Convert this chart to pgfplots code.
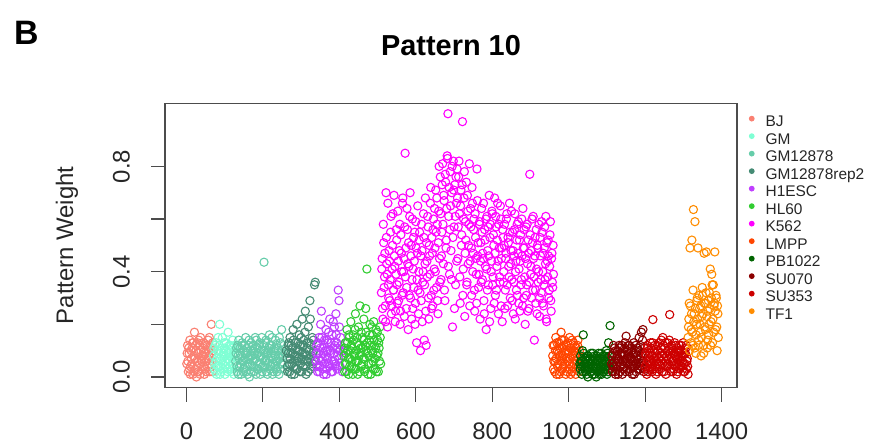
\documentclass[border=0pt]{standalone}
\usepackage{fontspec}
\setmainfont{Liberation Sans}
\usepackage{pgfplots}
\pgfplotsset{compat=1.18}
\definecolor{cBJ}{HTML}{FA8072}
\definecolor{cGM}{HTML}{7FFFD4}
\definecolor{cGMb}{HTML}{66CDAA}
\definecolor{cGMr}{HTML}{458B74}
\definecolor{cHE}{HTML}{BF3EFF}
\definecolor{cHL}{HTML}{32CD32}
\definecolor{cK}{HTML}{FF00FF}
\definecolor{cLM}{HTML}{FF4500}
\definecolor{cPB}{HTML}{006400}
\definecolor{cSa}{HTML}{8B0000}
\definecolor{cSb}{HTML}{CD0000}
\definecolor{cTF}{HTML}{FF8C00}
\begin{document}
\begin{tikzpicture}
\begin{axis}[
  at={(165bp,-387.5bp)}, anchor=south west,
  width=572bp, height=284.3bp, scale only axis,
  xmin=-56, xmax=1440, ymin=-0.04, ymax=1.04,
  axis line style={line width=1.1bp, black!70},
  tick style={line width=1.1bp, black!70},
  tick align=outside, major tick length=14bp,
  xtick pos=left, ytick pos=left,
  xtick={0,200,400,600,800,1000,1200,1400},
  xticklabels={0,200,400,600,800,1000,1200,1400},
  ytick={0,0.2,0.4,0.6,0.8},
  yticklabels={0.0,,0.4,,0.8},
  tick label style={font=\fontsize{24}{24}\selectfont, inner sep=0pt, text=black!85},
  xticklabel style={anchor=north},
  yticklabel style={rotate=90, anchor=south},
  xticklabel shift=21.5bp, yticklabel shift=21bp,
  ylabel={Pattern Weight},
  ylabel style={at={(axis description cs:-0.1608,0.5)}, anchor=base, inner sep=0pt, font=\fontsize{24}{24}\selectfont, text=black!85},
  every axis plot/.append style={only marks, mark=o, mark size=4.1bp, line width=1.1bp},
  legend style={at={(axis description cs:1,1)}, anchor=north west, xshift=11.7bp, yshift=-11.8bp,
    draw=none, fill=none, inner sep=0pt, font=\fontsize{15.5}{15.5}\selectfont, text=black!85,
    row sep=0pt, nodes={inner sep=0pt, text height=11.5bp, text depth=6bp},
    /tikz/every odd column/.append style={column sep=11bp}},
  legend cell align=left,
  legend image code/.code={\fill[#1] (0bp,5.3bp) circle (2.3bp);},
]
\addplot[color=cBJ] coordinates {(1,0.05)(2,0.09)(3,0.12)(5,0.02)(7,0.09)(9,0.14)(10,0.01)(11,0.04)(13,0.07)(15,0.11)(17,0.01)(18,0.13)(19,0.08)(21,0.17)(23,0.03)(25,0.10)(26,0.00)(27,0.06)(29,0.13)(31,0.02)(33,0.09)(34,0.12)(35,0.05)(37,0.15)(39,0.07)(41,0.03)(42,0.08)(43,0.11)(45,0.08)(47,0.01)(49,0.12)(50,0.03)(51,0.06)(53,0.10)(55,0.04)(57,0.14)(58,0.10)(59,0.08)(61,0.02)(63,0.11)(65,0.20)(66,0.04)(67,0.06)(69,0.13)
(4,0.06)(6,0.11)(8,0.03)(12,0.10)(14,0.05)(16,0.13)(20,0.02)(22,0.07)(24,0.12)(28,0.04)(30,0.09)(32,0.14)(36,0.01)(38,0.10)(40,0.06)(44,0.13)(46,0.04)(48,0.09)(52,0.02)(54,0.12)(56,0.07)(60,0.15)(62,0.05)(64,0.09)(68,0.02)(70,0.10)};
\addlegendentry{BJ}
\addplot[color=cGM] coordinates {(71,0.08)(73,0.03)(75,0.12)(77,0.06)(79,0.01)(81,0.10)(83,0.15)(85,0.04)(87,0.20)(89,0.07)(91,0.02)(93,0.11)(95,0.05)(97,0.09)(99,0.13)(101,0.01)(103,0.06)(105,0.10)(107,0.03)(109,0.17)(111,0.08)(113,0.04)(115,0.12)(117,0.02)(119,0.07)(121,0.14)(123,0.05)(125,0.09)
(72,0.11)(74,0.05)(76,0.02)(78,0.13)(80,0.07)(82,0.04)(84,0.09)(86,0.12)(88,0.01)(90,0.10)(92,0.06)(94,0.15)(96,0.03)(98,0.08)(100,0.11)(102,0.04)(104,0.13)(106,0.07)(108,0.02)(110,0.09)(112,0.12)(114,0.06)(116,0.10)(118,0.03)(120,0.11)(122,0.08)(124,0.01)(126,0.12)};
\addlegendentry{GM}
\addplot[color=cGMb] coordinates {(129,0.06)(131,0.11)(133,0.02)(135,0.08)(137,0.14)(139,0.04)(141,0.09)(143,0.01)(145,0.12)(147,0.06)(149,0.03)(151,0.10)(153,0.07)(155,0.15)(157,0.02)(159,0.09)(161,0.05)(163,0.12)(165,0.00)(167,0.08)(169,0.13)(171,0.04)(173,0.10)(175,0.06)(177,0.02)(179,0.11)(181,0.07)(183,0.14)(185,0.03)(187,0.09)(189,0.05)(191,0.12)(193,0.01)(195,0.08)(197,0.15)(199,0.04)(201,0.10)(203,0.436)(205,0.06)(207,0.13)(209,0.02)(211,0.09)(213,0.05)(215,0.11)(217,0.16)(219,0.03)(221,0.08)(223,0.12)(225,0.01)(227,0.07)(229,0.10)(231,0.04)(233,0.14)(235,0.06)(237,0.02)(239,0.11)(241,0.08)(243,0.15)(245,0.03)(247,0.09)(249,0.18)(251,0.05)
(130,0.09)(132,0.04)(134,0.12)(136,0.01)(138,0.07)(140,0.11)(142,0.05)(144,0.08)(146,0.13)(148,0.02)(150,0.06)(152,0.12)(154,0.04)(156,0.09)(158,0.11)(160,0.01)(162,0.07)(164,0.14)(166,0.05)(168,0.10)(170,0.02)(172,0.08)(174,0.12)(176,0.04)(178,0.09)(180,0.15)(182,0.01)(184,0.06)(186,0.11)(188,0.03)(190,0.08)(192,0.13)(194,0.05)(196,0.10)(198,0.02)(200,0.07)(202,0.12)(204,0.04)(206,0.09)(208,0.14)(210,0.06)(212,0.01)(214,0.10)(216,0.07)(218,0.12)(220,0.04)(222,0.09)(224,0.15)(226,0.05)(228,0.02)(230,0.11)(232,0.08)(234,0.03)(236,0.12)(238,0.06)(240,0.10)(242,0.01)(244,0.07)(246,0.13)(248,0.05)(250,0.10)(253,0.08)(255,0.12)(257,0.03)(259,0.09)};
\addlegendentry{GM12878}
\addplot[color=cGMr] coordinates {(263,0.07)(265,0.02)(267,0.12)(269,0.05)(271,0.15)(273,0.09)(275,0.01)(277,0.11)(279,0.18)(281,0.04)(283,0.08)(285,0.13)(287,0.03)(289,0.20)(291,0.06)(293,0.10)(295,0.16)(297,0.02)(299,0.12)(301,0.07)(303,0.22)(305,0.04)(307,0.14)(309,0.09)(311,0.25)(313,0.01)(315,0.11)(317,0.06)(319,0.19)(321,0.13)(323,0.29)(325,0.03)(327,0.08)(329,0.15)(331,0.05)(333,0.10)(335,0.35)(337,0.36)
(261,0.10)(264,0.04)(266,0.09)(268,0.13)(270,0.02)(272,0.07)(274,0.12)(276,0.05)(278,0.09)(280,0.14)(282,0.01)(284,0.06)(286,0.11)(288,0.08)(290,0.03)(292,0.13)(294,0.07)(296,0.10)(298,0.05)(300,0.15)(302,0.02)(304,0.09)(306,0.12)(308,0.06)(310,0.17)(312,0.04)(314,0.08)(316,0.13)(318,0.02)(320,0.10)(322,0.07)(324,0.22)(326,0.12)(328,0.04)(330,0.09)(332,0.14)(334,0.06)};
\addlegendentry{GM12878rep2}
\addplot[color=cHE] coordinates {(339,0.06)(341,0.12)(343,0.02)(345,0.09)(347,0.15)(349,0.04)(351,0.20)(353,0.25)(355,0.07)(357,0.11)(359,0.01)(361,0.14)(363,0.08)(365,0.18)(367,0.03)(369,0.10)(371,0.13)(373,0.05)(375,0.22)(377,0.09)(379,0.02)(381,0.16)(383,0.11)(385,0.06)(387,0.19)(389,0.04)(391,0.24)(393,0.13)(395,0.08)(397,0.33)(399,0.29)(401,0.10)(403,0.15)
(340,0.09)(342,0.04)(344,0.13)(346,0.07)(348,0.02)(350,0.11)(352,0.06)(354,0.15)(356,0.03)(358,0.09)(360,0.12)(362,0.05)(364,0.10)(366,0.01)(368,0.14)(370,0.07)(372,0.17)(374,0.04)(376,0.10)(378,0.13)(380,0.06)(382,0.02)(384,0.21)(386,0.09)(388,0.12)(390,0.05)(392,0.16)(394,0.03)(396,0.11)(398,0.07)(400,0.19)(402,0.04)(404,0.12)(406,0.08)(408,0.02)(410,0.10)};
\addlegendentry{H1ESC}
\addplot[color=cHL] coordinates {(412,0.08)(414,0.02)(416,0.13)(418,0.05)(420,0.18)(422,0.10)(424,0.01)(426,0.15)(428,0.07)(430,0.21)(432,0.04)(434,0.11)(436,0.16)(438,0.03)(440,0.09)(442,0.24)(444,0.06)(446,0.13)(448,0.01)(450,0.19)(452,0.08)(454,0.27)(456,0.11)(458,0.04)(460,0.15)(462,0.07)(464,0.22)(466,0.02)(468,0.12)(470,0.17)(472,0.41)(474,0.09)(476,0.05)(478,0.14)(480,0.20)(482,0.01)(484,0.10)(486,0.16)(488,0.06)(490,0.21)(492,0.12)(494,0.03)(496,0.18)(498,0.08)(500,0.14)(502,0.02)(504,0.11)(506,0.19)(508,0.05)
(413,0.11)(415,0.05)(417,0.09)(419,0.02)(421,0.13)(423,0.07)(425,0.16)(427,0.04)(429,0.10)(431,0.12)(433,0.06)(435,0.01)(437,0.14)(439,0.08)(441,0.18)(443,0.03)(445,0.10)(447,0.15)(449,0.06)(451,0.12)(453,0.02)(455,0.09)(457,0.17)(459,0.05)(461,0.11)(463,0.14)(465,0.07)(467,0.03)(469,0.26)(471,0.10)(473,0.13)(475,0.01)(477,0.08)(479,0.16)(481,0.12)(483,0.05)(485,0.19)(487,0.09)(489,0.03)(491,0.14)(493,0.07)(495,0.11)(497,0.02)(499,0.17)(501,0.09)(503,0.13)(505,0.06)(507,0.15)};
\addlegendentry{HL60}
\addplot[color=cK] coordinates {
(510,0.32)(512,0.45)(514,0.22)(516,0.51)(518,0.38)(520,0.27)(522,0.70)(524,0.43)(526,0.19)(528,0.35)
(530,0.48)(532,0.29)(534,0.55)(536,0.24)(538,0.41)(540,0.62)(542,0.33)(544,0.46)(546,0.21)(548,0.39)
(550,0.52)(552,0.28)(554,0.44)(556,0.36)(558,0.58)(560,0.25)(562,0.47)(564,0.31)(566,0.68)(568,0.40)
(570,0.23)(572,0.85)(574,0.49)(576,0.34)(578,0.56)(580,0.18)(582,0.42)(584,0.61)(586,0.30)(588,0.50)
(590,0.37)(592,0.26)(594,0.53)(596,0.44)(598,0.20)(600,0.59)(602,0.13)(604,0.47)(606,0.33)(608,0.40)
(610,0.55)(612,0.10)(614,0.29)(616,0.48)(618,0.36)(620,0.62)(622,0.14)(624,0.43)(626,0.25)(628,0.51)
(630,0.38)(632,0.57)(634,0.22)(636,0.46)(638,0.66)(640,0.31)(642,0.53)(644,0.27)(646,0.60)(648,0.41)
(650,0.49)(652,0.71)(654,0.34)(656,0.58)(658,0.24)(660,0.63)(662,0.45)(664,0.76)(666,0.37)(668,0.55)
(670,0.81)(672,0.43)(674,0.67)(676,0.29)(678,0.74)(680,0.52)(682,0.84)(684,1.00)(686,0.61)(688,0.39)
(690,0.78)(692,0.48)(694,0.70)(696,0.19)(698,0.82)(700,0.57)(702,0.73)(704,0.35)(706,0.66)(708,0.79)
(710,0.45)(712,0.76)(714,0.62)(716,0.28)(718,0.71)(720,0.54)(722,0.97)(724,0.41)(726,0.68)(728,0.23)
(730,0.59)(732,0.74)(734,0.36)(736,0.63)(738,0.50)(740,0.81)(742,0.44)(744,0.57)(746,0.31)(748,0.66)
(750,0.47)(752,0.60)(754,0.25)(756,0.53)(758,0.39)(760,0.79)(762,0.46)(764,0.34)(766,0.58)(768,0.22)
(770,0.51)(772,0.64)(774,0.37)(776,0.45)(778,0.29)(780,0.56)(782,0.42)(784,0.18)(786,0.61)(788,0.48)
(790,0.35)(792,0.69)(794,0.53)(796,0.26)(798,0.44)(800,0.62)(802,0.38)(804,0.50)(806,0.68)(808,0.31)
(810,0.57)(812,0.42)(814,0.66)(816,0.24)(818,0.49)(820,0.36)(822,0.60)(824,0.45)(826,0.21)(828,0.53)
(830,0.40)(832,0.58)(834,0.33)(836,0.47)(838,0.62)(840,0.27)(842,0.51)(844,0.38)(846,0.55)(848,0.43)
(850,0.63)(852,0.29)(854,0.48)(856,0.36)(858,0.56)(860,0.22)(862,0.44)(864,0.52)(866,0.31)(868,0.59)
(870,0.41)(872,0.25)(874,0.54)(876,0.37)(878,0.46)(880,0.64)(882,0.30)(884,0.49)(886,0.20)(888,0.57)
(890,0.35)(892,0.43)(894,0.52)(896,0.26)(898,0.77)(900,0.39)(902,0.48)(904,0.60)(906,0.33)(908,0.45)
(910,0.14)(912,0.53)(914,0.28)(916,0.41)(918,0.50)(920,0.36)(922,0.58)(924,0.23)(926,0.46)(928,0.32)
(930,0.55)(932,0.40)(934,0.27)(936,0.49)(938,0.37)(940,0.61)(942,0.21)(944,0.44)(946,0.52)(948,0.30)
(950,0.42)(952,0.59)(954,0.25)(956,0.47)(958,0.34)(960,0.39)
(511,0.41)(513,0.26)(515,0.58)(517,0.34)(519,0.47)(521,0.21)(523,0.53)(525,0.39)(527,0.66)(529,0.30)
(531,0.44)(533,0.37)(535,0.61)(537,0.27)(539,0.50)(541,0.33)(543,0.69)(545,0.42)(547,0.25)(549,0.56)
(551,0.35)(553,0.63)(555,0.29)(557,0.48)(559,0.20)(561,0.54)(563,0.40)(565,0.66)(567,0.32)(569,0.45)
(571,0.57)(573,0.38)(575,0.26)(577,0.64)(579,0.43)(581,0.51)(583,0.31)(585,0.70)(587,0.46)(589,0.22)
(591,0.60)(593,0.41)(595,0.34)(597,0.55)(599,0.28)(601,0.49)(603,0.37)(605,0.65)(607,0.24)(609,0.52)
(611,0.32)(613,0.46)(615,0.58)(617,0.21)(619,0.40)(621,0.53)(623,0.35)(625,0.68)(627,0.12)(629,0.44)
(631,0.61)(633,0.30)(635,0.50)(637,0.39)(639,0.72)(641,0.26)(643,0.47)(645,0.56)(647,0.33)(649,0.64)
(651,0.40)(653,0.55)(655,0.68)(657,0.29)(659,0.51)(661,0.80)(663,0.36)(665,0.62)(667,0.46)(669,0.73)
(671,0.58)(673,0.69)(675,0.33)(677,0.77)(679,0.49)(681,0.64)(683,0.83)(685,0.42)(687,0.72)(689,0.56)
(691,0.65)(693,0.37)(695,0.80)(697,0.53)(699,0.71)(701,0.26)(703,0.61)(705,0.76)(707,0.44)(709,0.68)
(711,0.57)(713,0.82)(715,0.38)(717,0.65)(719,0.50)(721,0.73)(723,0.31)(725,0.60)(727,0.78)(729,0.47)
(731,0.52)(733,0.35)(735,0.69)(737,0.43)(739,0.58)(741,0.27)(743,0.64)(745,0.49)(747,0.72)(749,0.40)
(751,0.56)(753,0.33)(755,0.62)(757,0.45)(759,0.28)(761,0.67)(763,0.51)(765,0.39)(767,0.59)(769,0.44)
(771,0.36)(773,0.55)(775,0.47)(777,0.66)(779,0.24)(781,0.52)(783,0.60)(785,0.41)(787,0.33)(789,0.57)
(791,0.46)(793,0.21)(795,0.58)(797,0.40)(799,0.63)(801,0.35)(803,0.54)(805,0.28)(807,0.47)(809,0.61)
(811,0.33)(813,0.52)(815,0.44)(817,0.58)(819,0.38)(821,0.65)(823,0.27)(825,0.49)(827,0.56)(829,0.36)
(831,0.50)(833,0.26)(835,0.45)(837,0.60)(839,0.35)(841,0.53)(843,0.42)(845,0.66)(847,0.30)(849,0.48)
(851,0.37)(853,0.55)(855,0.24)(857,0.46)(859,0.62)(861,0.40)(863,0.33)(865,0.58)(867,0.47)(869,0.28)
(871,0.52)(873,0.44)(875,0.35)(877,0.60)(879,0.27)(881,0.49)(883,0.56)(885,0.38)(887,0.45)(889,0.31)
(891,0.58)(893,0.25)(895,0.47)(897,0.36)(899,0.54)(901,0.42)(903,0.30)(905,0.51)(907,0.61)(909,0.38)
(911,0.46)(913,0.33)(915,0.56)(917,0.24)(919,0.49)(921,0.40)(923,0.30)(925,0.53)(927,0.37)(929,0.59)
(931,0.28)(933,0.47)(935,0.35)(937,0.57)(939,0.43)(941,0.22)(943,0.51)(945,0.38)(947,0.46)(949,0.33)
(951,0.54)(953,0.29)(955,0.45)(957,0.36)(959,0.50)};
\addlegendentry{K562}
\addplot[color=cLM] coordinates {(958,0.08)(960,0.03)(962,0.12)(964,0.06)(966,0.15)(968,0.01)(970,0.10)(972,0.05)(974,0.13)(976,0.08)(978,0.02)(980,0.17)(982,0.07)(984,0.11)(986,0.04)(988,0.14)(990,0.09)(992,0.01)(994,0.12)(996,0.06)(998,0.10)(1000,0.03)(1002,0.15)(1004,0.07)(1006,0.11)(1008,0.02)(1010,0.09)(1012,0.13)(1014,0.05)(1016,0.08)(1018,0.01)(1020,0.11)(1022,0.06)(1024,0.14)(1026,0.04)
(959,0.12)(961,0.06)(963,0.02)(965,0.10)(967,0.07)(969,0.13)(971,0.04)(973,0.09)(975,0.01)(977,0.11)(979,0.06)(981,0.14)(983,0.03)(985,0.08)(987,0.12)(989,0.05)(991,0.10)(993,0.07)(995,0.02)(997,0.13)(999,0.09)(1001,0.05)(1003,0.11)(1005,0.01)(1007,0.08)(1009,0.14)(1011,0.04)(1013,0.10)(1015,0.12)(1017,0.06)(1019,0.03)(1021,0.09)(1023,0.12)(1025,0.07)(1027,0.02)(1028,0.10)};
\addlegendentry{LMPP}
\addplot[color=cPB] coordinates {(1030,0.03)(1032,0.06)(1034,0.01)(1036,0.10)(1038,0.16)(1040,0.04)(1042,0.07)(1044,0.02)(1046,0.05)(1048,0.08)(1050,0.00)(1052,0.04)(1054,0.07)(1056,0.02)(1058,0.09)(1060,0.05)(1062,0.01)(1064,0.06)(1066,0.03)(1068,0.08)(1070,0.04)(1072,0.00)(1074,0.06)(1076,0.02)(1078,0.09)(1080,0.05)(1082,0.03)(1084,0.07)(1086,0.01)(1088,0.05)(1090,0.08)(1092,0.02)(1094,0.06)(1096,0.04)(1098,0.10)(1100,0.01)(1102,0.07)(1104,0.13)(1106,0.03)(1108,0.195)(1110,0.06)
(1029,0.05)(1031,0.08)(1033,0.04)(1035,0.06)(1037,0.02)(1039,0.09)(1041,0.05)(1043,0.03)(1045,0.07)(1047,0.01)(1049,0.06)(1051,0.08)(1053,0.03)(1055,0.05)(1057,0.07)(1059,0.02)(1061,0.06)(1063,0.09)(1065,0.04)(1067,0.01)(1069,0.07)(1071,0.05)(1073,0.08)(1075,0.03)(1077,0.06)(1079,0.01)(1081,0.07)(1083,0.04)(1085,0.09)(1087,0.06)(1089,0.02)(1091,0.05)(1093,0.08)(1095,0.03)(1097,0.06)(1099,0.04)(1101,0.09)(1103,0.02)(1105,0.05)(1107,0.08)(1109,0.03)};
\addlegendentry{PB1022}
\addplot[color=cSa] coordinates {(1112,0.05)(1114,0.02)(1116,0.09)(1118,0.04)(1120,0.11)(1122,0.01)(1124,0.07)(1126,0.03)(1128,0.10)(1130,0.06)(1132,0.12)(1134,0.02)(1136,0.08)(1138,0.05)(1140,0.01)(1142,0.09)(1144,0.04)(1146,0.11)(1148,0.06)(1150,0.155)(1152,0.03)(1154,0.08)(1156,0.12)(1158,0.02)(1160,0.07)(1162,0.05)(1164,0.10)(1166,0.01)(1168,0.06)(1170,0.13)(1172,0.04)(1174,0.09)(1176,0.02)(1178,0.07)(1180,0.11)(1182,0.05)(1184,0.15)(1186,0.03)(1188,0.08)(1190,0.17)(1192,0.06)(1194,0.18)(1196,0.02)(1198,0.09)
(1113,0.08)(1115,0.04)(1117,0.12)(1119,0.06)(1121,0.02)(1123,0.10)(1125,0.05)(1127,0.08)(1129,0.01)(1131,0.07)(1133,0.11)(1135,0.04)(1137,0.09)(1139,0.12)(1141,0.06)(1143,0.03)(1145,0.08)(1147,0.13)(1149,0.02)(1151,0.07)(1153,0.10)(1155,0.05)(1157,0.09)(1159,0.12)(1161,0.03)(1163,0.07)(1165,0.11)(1167,0.04)(1169,0.09)(1171,0.01)(1173,0.06)(1175,0.12)(1177,0.05)(1179,0.08)(1181,0.03)(1183,0.10)(1185,0.07)(1187,0.12)(1189,0.04)(1191,0.09)(1193,0.14)(1195,0.06)(1197,0.11)(1199,0.03)};
\addlegendentry{SU070}
\addplot[color=cSb] coordinates {(1200,0.04)(1202,0.08)(1204,0.01)(1206,0.11)(1208,0.06)(1210,0.03)(1212,0.09)(1214,0.13)(1216,0.05)(1218,0.02)(1220,0.218)(1222,0.07)(1224,0.10)(1226,0.04)(1228,0.01)(1230,0.08)(1232,0.12)(1234,0.05)(1236,0.03)(1238,0.09)(1240,0.06)(1242,0.14)(1244,0.02)(1246,0.15)(1248,0.07)(1250,0.11)(1252,0.04)(1254,0.01)(1256,0.08)(1258,0.13)(1260,0.05)(1262,0.10)(1264,0.237)(1266,0.03)(1268,0.07)(1270,0.11)(1272,0.02)(1274,0.06)(1276,0.09)(1278,0.04)(1280,0.12)(1282,0.01)(1284,0.07)(1286,0.05)(1288,0.10)(1290,0.03)(1292,0.08)(1294,0.12)(1296,0.04)(1298,0.06)(1300,0.02)(1302,0.09)(1304,0.05)(1306,0.11)(1308,0.03)(1310,0.07)(1312,0.01)
(1201,0.09)(1203,0.05)(1205,0.12)(1207,0.02)(1209,0.10)(1211,0.06)(1213,0.04)(1215,0.11)(1217,0.08)(1219,0.13)(1221,0.03)(1223,0.06)(1225,0.12)(1227,0.09)(1229,0.05)(1231,0.02)(1233,0.10)(1235,0.07)(1237,0.13)(1239,0.04)(1241,0.11)(1243,0.08)(1245,0.05)(1247,0.12)(1249,0.02)(1251,0.09)(1253,0.13)(1255,0.06)(1257,0.04)(1259,0.10)(1261,0.07)(1263,0.14)(1265,0.09)(1267,0.02)(1269,0.12)(1271,0.06)(1273,0.10)(1275,0.03)(1277,0.13)(1279,0.08)(1281,0.05)(1283,0.11)(1285,0.02)(1287,0.09)(1289,0.12)(1291,0.06)(1293,0.04)(1295,0.10)(1297,0.08)(1299,0.13)(1301,0.05)(1303,0.02)(1305,0.09)(1307,0.12)(1309,0.06)(1311,0.04)};
\addlegendentry{SU353}
\addplot[color=cTF] coordinates {(1312,0.15)(1314,0.22)(1316,0.10)(1318,0.27)(1320,0.18)(1322,0.52)(1324,0.12)(1326,0.636)(1328,0.24)(1330,0.59)(1332,0.09)(1334,0.20)(1336,0.30)(1338,0.49)(1340,0.14)(1342,0.26)(1344,0.17)(1346,0.08)(1348,0.23)(1350,0.31)(1352,0.12)(1354,0.47)(1356,0.19)(1358,0.28)(1360,0.475)(1362,0.11)(1364,0.25)(1366,0.16)(1368,0.32)(1370,0.41)(1372,0.21)(1374,0.39)(1376,0.13)(1378,0.35)(1380,0.27)(1382,0.475)(1384,0.18)(1386,0.30)(1388,0.10)(1390,0.24)
(1313,0.19)(1315,0.28)(1317,0.49)(1319,0.13)(1321,0.24)(1323,0.17)(1325,0.33)(1327,0.21)(1329,0.11)(1331,0.26)(1333,0.16)(1335,0.29)(1337,0.22)(1339,0.12)(1341,0.31)(1343,0.20)(1345,0.27)(1347,0.15)(1349,0.34)(1351,0.24)(1353,0.09)(1355,0.28)(1357,0.18)(1359,0.32)(1361,0.23)(1363,0.14)(1365,0.29)(1367,0.20)(1369,0.26)(1371,0.12)(1373,0.30)(1375,0.35)(1377,0.22)(1379,0.17)(1381,0.28)(1383,0.25)(1385,0.31)(1387,0.19)(1389,0.27)(1391,0.15)};
\addlegendentry{TF1}
\end{axis}
\node[font=\bfseries\fontsize{29}{29}\selectfont, anchor=base] at (451bp,-55bp) {Pattern 10};
\node[font=\bfseries\fontsize{34}{34}\selectfont, anchor=base] at (26.3bp,-44bp) {B};
\pgfresetboundingbox
\path[use as bounding box] (0bp,0bp) rectangle (869bp,-444bp);
\end{tikzpicture}
\end{document}
